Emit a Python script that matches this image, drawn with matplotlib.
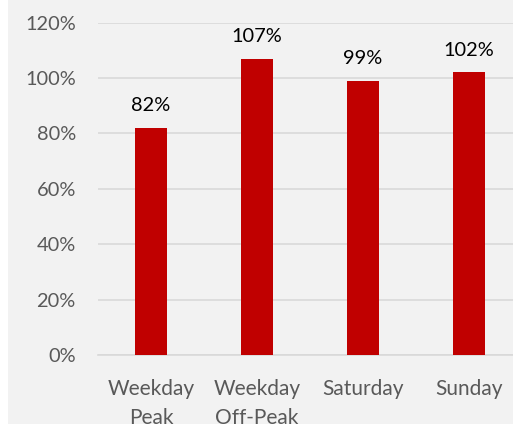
import matplotlib
matplotlib.use("Agg")
import matplotlib.pyplot as plt
from matplotlib.patches import Rectangle

categories = ["Weekday\nPeak", "Weekday\nOff-Peak", "Saturday", "Sunday"]
values = [82, 107, 99, 102]
labels = ["82%", "107%", "99%", "102%"]
yticks = [0, 20, 40, 60, 80, 100, 120]
ytick_labels = ["0%", "20%", "40%", "60%", "80%", "100%", "120%"]

W, H = 513, 424
fig = plt.figure(figsize=(W / 100, H / 100), dpi=100, facecolor="white")
fig.patches.append(Rectangle((8 / W, 0), 1, 1, transform=fig.transFigure,
                             facecolor="#f2f2f2", edgecolor="none", zorder=-10))

font = "Lato"
fs = 14.4
left, right = 98, 522
top, bottom = 22.6, 355
ax = fig.add_axes([left / W, (H - bottom) / H, (right - left) / W, (bottom - top) / H])
ax.set_zorder(5)
ax.set_facecolor("none")

x = range(len(categories))
ax.bar(x, values, width=0.31, color="#C00000", zorder=3)
for xi, v, lab in zip(x, values, labels):
    ax.annotate(lab, (xi, v), xytext=(0, 10), textcoords="offset points",
                ha="center", va="bottom", fontsize=fs, family=font, color="black")

ax.set_xlim(-0.5, len(categories) - 0.5)
ax.set_ylim(0, 120)
ax.set_yticks(yticks)
ax.set_yticklabels(ytick_labels, family=font, fontsize=fs, color="#595959")
ax.set_xticks(list(x))
ax.set_xticklabels(categories, family=font, fontsize=15, color="#595959", linespacing=1.6)
ax.tick_params(axis="y", length=0, pad=16)
ax.tick_params(axis="x", length=0, pad=17)
ax.grid(axis="y", color="#d9d9d9", linewidth=1.2, zorder=0)
for s in ["top", "right", "left"]:
    ax.spines[s].set_visible(False)
ax.spines["bottom"].set_color("#d9d9d9")
ax.spines["bottom"].set_linewidth(1.2)

fig.savefig("out.png", dpi=100, facecolor=fig.get_facecolor())
